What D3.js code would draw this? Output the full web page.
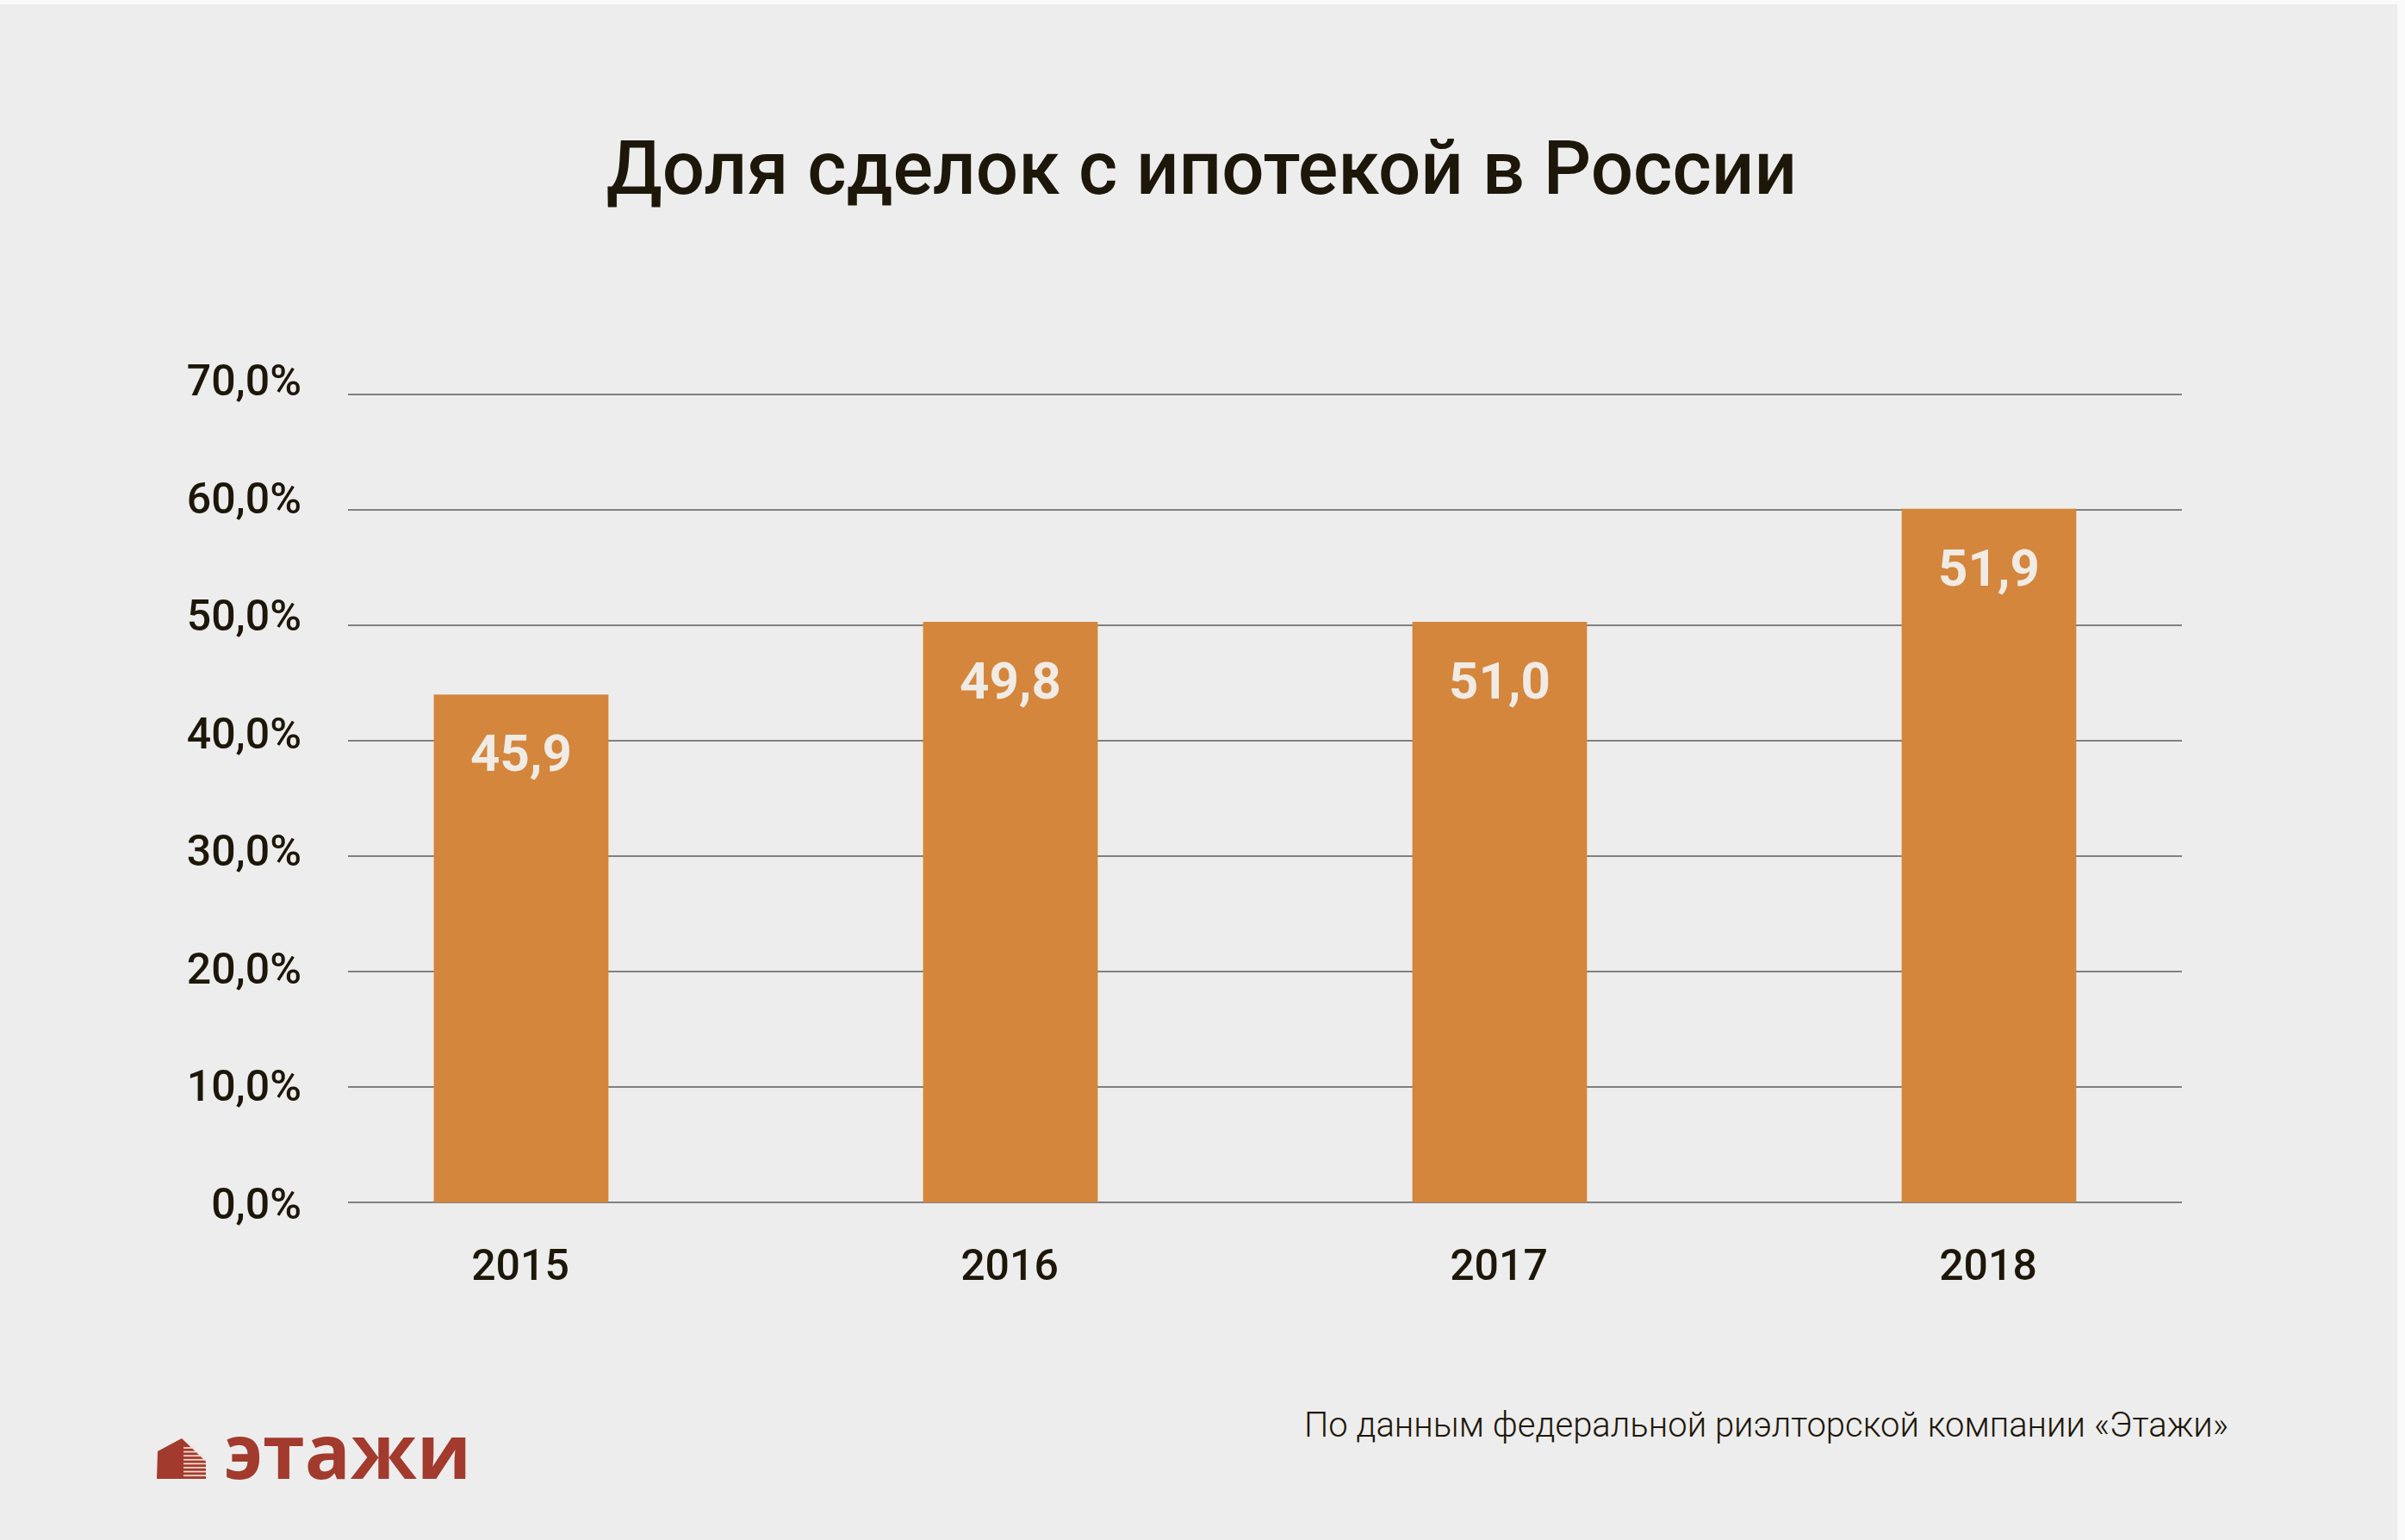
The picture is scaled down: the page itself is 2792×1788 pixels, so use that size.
<!DOCTYPE html>
<html>
<head>
<meta charset="utf-8">
<script src="https://cdn.jsdelivr.net/npm/d3@7"></script>
<style>
  html, body { margin: 0; padding: 0; background: #fff; }
  svg { display: block; }
</style>
</head>
<body>
<script>
// bar heights as drawn, labels as printed on the bars
const years = ['2015', '2016', '2017', '2018']
const barValues = [44.0, 50.3, 50.3, 60.1]
const barLabels = ['45,9', '49,8', '51,0', '51,9']
const yTicks = [0, 10, 20, 30, 40, 50, 60, 70]
const yTickLabels = ['0,0%', '10,0%', '20,0%', '30,0%', '40,0%', '50,0%', '60,0%', '70,0%']

const W = 2792, H = 1788
const cfg = {
  bg: '#eeeded',
  bar: '#d4863c',
  barText: '#f1ebe5',
  text: '#1d1709',
  grid: '#808080',
  brand: '#a23a2d',
  font: 'Roboto, "Noto Sans", sans-serif'
}

const svg = d3.select('body').append('svg')
  .attr('width', W)
  .attr('height', H)

svg.append('rect').attr('width', W).attr('height', H).attr('fill', '#fafafa')
svg.append('rect')
  .attr('x', 0).attr('y', 5)
  .attr('width', W - 9).attr('height', H - 5)
  .attr('fill', cfg.bg)

// scales
const y = d3.scaleLinear().domain([0, 70]).range([1396, 458])
// the tick labels sit on a slightly wider spacing than the gridlines
const yLab = d3.scaleLinear().domain([0, 70]).range([1415, 459])
const x = d3.scaleBand().domain(years).range([321, 2593]).paddingInner(0.643).paddingOuter(0.3215)

// title
svg.append('text')
  .attr('x', 1395).attr('y', 225)
  .attr('text-anchor', 'middle')
  .attr('font-family', cfg.font)
  .attr('font-weight', 500)
  .attr('font-size', 87)
  .attr('fill', cfg.text)
  .text('Доля сделок с ипотекой в России')

// gridlines
svg.append('g')
  .selectAll('line')
  .data(yTicks).enter().append('line')
  .attr('x1', 404).attr('x2', 2533)
  .attr('y1', d => y(d)).attr('y2', d => y(d))
  .attr('stroke', cfg.grid)
  .attr('stroke-width', 2)

// y tick labels
svg.append('g')
  .selectAll('text')
  .data(yTicks).enter().append('text')
  .attr('x', 350)
  .attr('y', d => yLab(d))
  .attr('text-anchor', 'end')
  .attr('font-family', cfg.font)
  .attr('font-weight', 500)
  .attr('font-size', 50)
  .attr('fill', cfg.text)
  .text((d, i) => yTickLabels[i])

// bars
svg.append('g')
  .selectAll('rect')
  .data(years).enter().append('rect')
  .attr('x', d => x(d))
  .attr('width', x.bandwidth())
  .attr('y', (d, i) => y(barValues[i]))
  .attr('height', (d, i) => y(0) - y(barValues[i]))
  .attr('fill', cfg.bar)

// value labels inside bars
svg.append('g')
  .selectAll('text')
  .data(years).enter().append('text')
  .attr('x', d => x(d) + x.bandwidth() / 2)
  .attr('y', (d, i) => y(barValues[i]) + 89)
  .attr('text-anchor', 'middle')
  .attr('font-family', cfg.font)
  .attr('font-weight', 700)
  .attr('font-size', 60)
  .attr('fill', cfg.barText)
  .text((d, i) => barLabels[i])

// year labels
svg.append('g')
  .selectAll('text')
  .data(years).enter().append('text')
  .attr('x', d => x(d) + x.bandwidth() / 2 - 1)
  .attr('y', 1486)
  .attr('text-anchor', 'middle')
  .attr('font-family', cfg.font)
  .attr('font-weight', 500)
  .attr('font-size', 50)
  .attr('fill', cfg.text)
  .text(d => d)

// source note
svg.append('text')
  .attr('x', 2587).attr('y', 1668)
  .attr('text-anchor', 'end')
  .attr('font-family', cfg.font)
  .attr('font-weight', 300)
  .attr('font-size', 40)
  .attr('fill', cfg.text)
  .text('По данным федеральной риэлторской компании «Этажи»')

// logo: little building + wordmark
const logo = svg.append('g')
logo.append('polygon')
  .attr('points', '182,1717 183,1685 211,1670 211,1717')
  .attr('fill', cfg.brand)
logo.append('polygon')
  .attr('points', '211,1670 239,1697 239,1717 211,1717')
  .attr('fill', cfg.brand)
d3.range(8).forEach(i => {
  const yy = 1681 + i * 4.6
  logo.append('line')
    .attr('x1', 213).attr('x2', 239)
    .attr('y1', yy).attr('y2', yy)
    .attr('stroke', '#f3d9cf')
    .attr('stroke-width', 1.8)
})
logo.append('polygon')
  .attr('points', '211,1668 241,1696 241,1665')
  .attr('fill', cfg.bg)

logo.append('text')
  .attr('x', 260).attr('y', 1717)
  .attr('font-family', '"Open Sans", Roboto, sans-serif')
  .attr('font-weight', 700)
  .attr('font-size', 88)
  .attr('fill', cfg.brand)
  .text('этажи')
</script>
</body>
</html>
